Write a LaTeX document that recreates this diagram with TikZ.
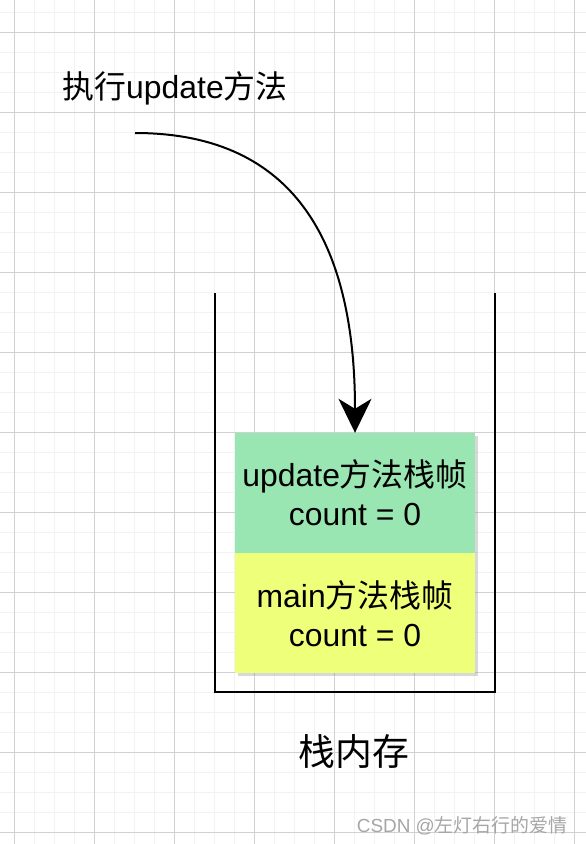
\documentclass[tikz,border=0pt]{standalone}
\usepackage{fontspec}
\setmainfont{Liberation Sans}
\newfontfamily\cjk{Noto Sans CJK SC}
\usetikzlibrary{arrows.meta,positioning,shadows}
\definecolor{rammegronn}{RGB}{153,230,179}
\definecolor{rammegul}{RGB}{238,255,122}
\tikzset{
    >={Stealth[length=34bp,width=33bp,inset=10bp]},
    ramme/.style={
           rectangle,
           minimum width=240bp,
           minimum height=120bp,
           inner sep=0pt,
           align=center,
           font=\fontsize{32}{39}\selectfont,
           drop shadow={shadow xshift=3bp,shadow yshift=-3bp,opacity=0.3}},
    pil/.style={
           ->,
           line width=2bp},
    kant/.style={
           line width=2.5bp},
    fin/.style={
           draw=black!5, line width=1bp},
    grov/.style={
           draw=black!18, line width=1bp}
}

\begin{document}
\begin{tikzpicture}[x=1bp, y=-1bp]
        \useasboundingbox (0,0) rectangle (586,844);
        \fill[white] (0,0) rectangle (586,844);
        % grid
        \foreach \x in {14,34,...,574} \draw[fin] (\x,0) -- (\x,844);
        \foreach \y in {12,32,...,832} \draw[fin] (0,\y) -- (586,\y);
        \foreach \x in {14,94,...,574} \draw[grov] (\x,0) -- (\x,844);
        \foreach \y in {32,112,...,832} \draw[grov] (0,\y) -- (586,\y);

        \node[font=\fontsize{32}{38}\selectfont] (tittel) at (175,88) {{\cjk 执行}update{\cjk 方法}};
        \node[ramme, fill=rammegronn] (update) at (355,493) {update{\cjk 方法栈帧}\\count = 0};
        \node[ramme, fill=rammegul, below=0pt of update] (main) {main{\cjk 方法栈帧}\\count = 0};
        \node[font=\fontsize{37}{44}\selectfont] (stabel) at (354,752) {\cjk 栈内存};
        \node[anchor=east, text=black!35, font=\fontsize{19}{22}\selectfont] (merke) at (571,826) {CSDN @{\cjk 左灯右行的爱情}};

        \coordinate (start) at (135,133);
        \coordinate (vo) at (215,293);
        \coordinate (vu) at (215,692);
        \coordinate (hu) at (495,692);
        \coordinate (ho) at (495,293);

        \draw[kant] (vo) -- (vu) -- (hu) -- (ho);
        \draw[pil] (start) .. controls (285,133) and (355,230) .. (update.north);
    \end{tikzpicture}
\end{document}
